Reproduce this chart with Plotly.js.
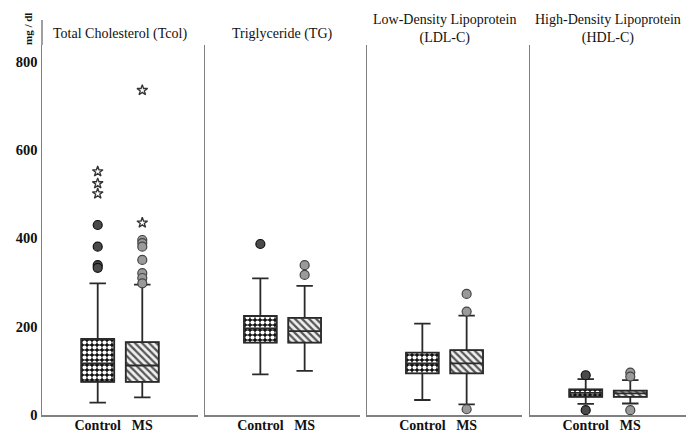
<!DOCTYPE html>
<html>
<head>
<meta charset="utf-8">
<script src="https://cdn.plot.ly/plotly-3.0.1.min.js"></script>
<style>html,body{margin:0;padding:0;background:#fff}#chart{width:698px;height:435px}</style>
</head>
<body>
<div id="chart"></div>
<script>
// ---- data (mg/dl) ----
const groups = ['Control', 'MS'];
const panelTitles = ['Total Cholesterol (Tcol)', 'Triglyceride (TG)', 'Low-Density Lipoprotein<br>(LDL-C)', 'High-Density Lipoprotein<br>(HDL-C)'];
const yTickVals = [0, 200, 400, 600, 800];

const controlLower  = [28, 92, 34, 25];
const controlQ1     = [75, 164, 94, 41];
const controlMedian = [117, 196, 117, 50];
const controlQ3     = [172, 224, 141, 58];
const controlUpper  = [298, 309, 207, 81];

const msLower  = [40, 100, 24, 26];
const msQ1     = [75, 164, 94, 41];
const msMedian = [112, 190, 117, 49];
const msQ3     = [165, 220, 147, 55];
const msUpper  = [295, 292, 225, 79];

const controlOutliers = [[430, 381, 339, 333], [387], [], [90, 11]];
const controlExtremes = [[551, 524, 501], [], [], []];
const msOutliers = [[396, 389, 381, 351, 321, 310, 298], [339, 317], [274, 234, 13], [96, 87, 11]];
const msExtremes = [[735, 435], [], [], []];

// ---- layout helpers ----
const W = 698, H = 435;
const px = x => x / W;
const py = y => 1 - y / H;
const panelX = [[42, 198], [205, 360], [367, 522], [530, 686]];
const plotTop = 45, plotBottom = 415;
const yMax = (plotBottom - plotTop) / ((plotBottom - 61.5) / 800);
const boxW = 0.74;
const serif = 'Liberation Serif';
const frameColor = '#808080';

const traces = [];
const layout = {
  width: W, height: H,
  margin: {l: 0, r: 0, t: 0, b: 0},
  paper_bgcolor: '#fff', plot_bgcolor: '#fff',
  showlegend: false, barmode: 'overlay',
  font: {family: serif, color: '#111'},
  annotations: [],
  shapes: []
};

for (let i = 0; i < 4; i++) {
  const s = i === 0 ? '' : String(i + 1);
  const xa = 'x' + s, ya = 'y' + s;

  layout['xaxis' + s] = {
    domain: [px(panelX[i][0]), px(panelX[i][1])],
    anchor: ya, type: 'category', range: [-1.25, 2.25],
    categoryorder: 'array', categoryarray: groups,
    showline: true, linecolor: frameColor, linewidth: 1.5,
    showgrid: false, zeroline: false, ticks: '',
    ticklabelstandoff: -3,
    tickfont: {family: serif, size: 14, color: '#111', weight: 'bold'},
    fixedrange: true
  };
  layout['yaxis' + s] = {
    domain: [py(plotBottom), py(plotTop)],
    anchor: xa, range: [0, yMax],
    showline: true, linecolor: frameColor, linewidth: 1.5,
    showgrid: false, zeroline: false, ticks: '',
    tickvals: yTickVals, showticklabels: i === 0,
    tickfont: {family: serif, size: 14.5, color: '#111', weight: 'bold'},
    fixedrange: true
  };

  // patterned box bodies: Control (checker-like) and MS (diagonal hatch)
  traces.push({
    type: 'bar', xaxis: xa, yaxis: ya,
    x: ['Control'], base: [controlQ1[i]], y: [controlQ3[i] - controlQ1[i]],
    width: boxW,
    marker: {
      color: '#111111',
      line: {color: '#777', width: 1.2},
      pattern: {shape: '.', fgcolor: '#ffffff', bgcolor: '#111111', fillmode: 'replace', size: 5, solidity: 0.55}
    },
    hoverinfo: 'skip'
  });
  traces.push({
    type: 'bar', xaxis: xa, yaxis: ya,
    x: ['MS'], base: [msQ1[i]], y: [msQ3[i] - msQ1[i]],
    width: boxW,
    marker: {
      color: '#555555',
      line: {color: '#777', width: 1.2},
      pattern: {shape: '\\', fgcolor: '#555555', bgcolor: '#f0f0f0', fillmode: 'replace', size: 5, solidity: 0.45}
    },
    hoverinfo: 'skip'
  });

  // box outlines, medians and whiskers
  traces.push({
    type: 'box', xaxis: xa, yaxis: ya,
    x: groups,
    q1: [controlQ1[i], msQ1[i]],
    median: [controlMedian[i], msMedian[i]],
    q3: [controlQ3[i], msQ3[i]],
    lowerfence: [controlLower[i], msLower[i]],
    upperfence: [controlUpper[i], msUpper[i]],
    width: boxW, whiskerwidth: 0.5,
    boxpoints: false,
    fillcolor: 'rgba(0,0,0,0)',
    line: {color: '#2a2a2a', width: 1.8},
    hoverinfo: 'skip'
  });

  // outliers
  traces.push({
    type: 'scatter', mode: 'markers', xaxis: xa, yaxis: ya,
    x: controlOutliers[i].map(() => 'Control'), y: controlOutliers[i],
    marker: {symbol: 'circle', size: 9, color: '#4a4a4a', line: {color: '#111', width: 1.2}},
    hoverinfo: 'skip'
  });
  traces.push({
    type: 'scatter', mode: 'markers', xaxis: xa, yaxis: ya,
    x: msOutliers[i].map(() => 'MS'), y: msOutliers[i],
    marker: {symbol: 'circle', size: 9, color: '#9a9a9a', line: {color: '#444', width: 1.2}},
    hoverinfo: 'skip'
  });
  // extremes
  traces.push({
    type: 'scatter', mode: 'markers', xaxis: xa, yaxis: ya,
    x: controlExtremes[i].map(() => 'Control').concat(msExtremes[i].map(() => 'MS')),
    y: controlExtremes[i].concat(msExtremes[i]),
    marker: {symbol: 'star-open', size: 8, color: '#333', line: {width: 1.3}},
    hoverinfo: 'skip'
  });

  // panel titles
  const twoLine = panelTitles[i].indexOf('<br>') >= 0;
  layout.annotations.push({
    xref: 'paper', yref: 'paper',
    x: px((panelX[i][0] + panelX[i][1]) / 2), y: py(twoLine ? 28.5 : 34),
    xanchor: 'center', yanchor: 'middle',
    text: panelTitles[i], showarrow: false,
    font: {family: serif, size: 14, color: '#111'}
  });
}

// y-axis unit label
layout.annotations.push({
  xref: 'paper', yref: 'paper', x: px(28), y: py(29),
  xanchor: 'center', yanchor: 'middle', textangle: -90,
  text: 'mg / dl', showarrow: false,
  font: {family: serif, size: 11, color: '#111', weight: 'bold'}
});

// extension of the main y-axis line above the panels
layout.shapes.push({
  type: 'line', xref: 'paper', yref: 'paper',
  x0: px(42), x1: px(42), y0: py(plotTop), y1: py(20),
  line: {color: frameColor, width: 1.5}
});

Plotly.newPlot('chart', traces, layout, {displayModeBar: false, staticPlot: true});
</script>
</body>
</html>
